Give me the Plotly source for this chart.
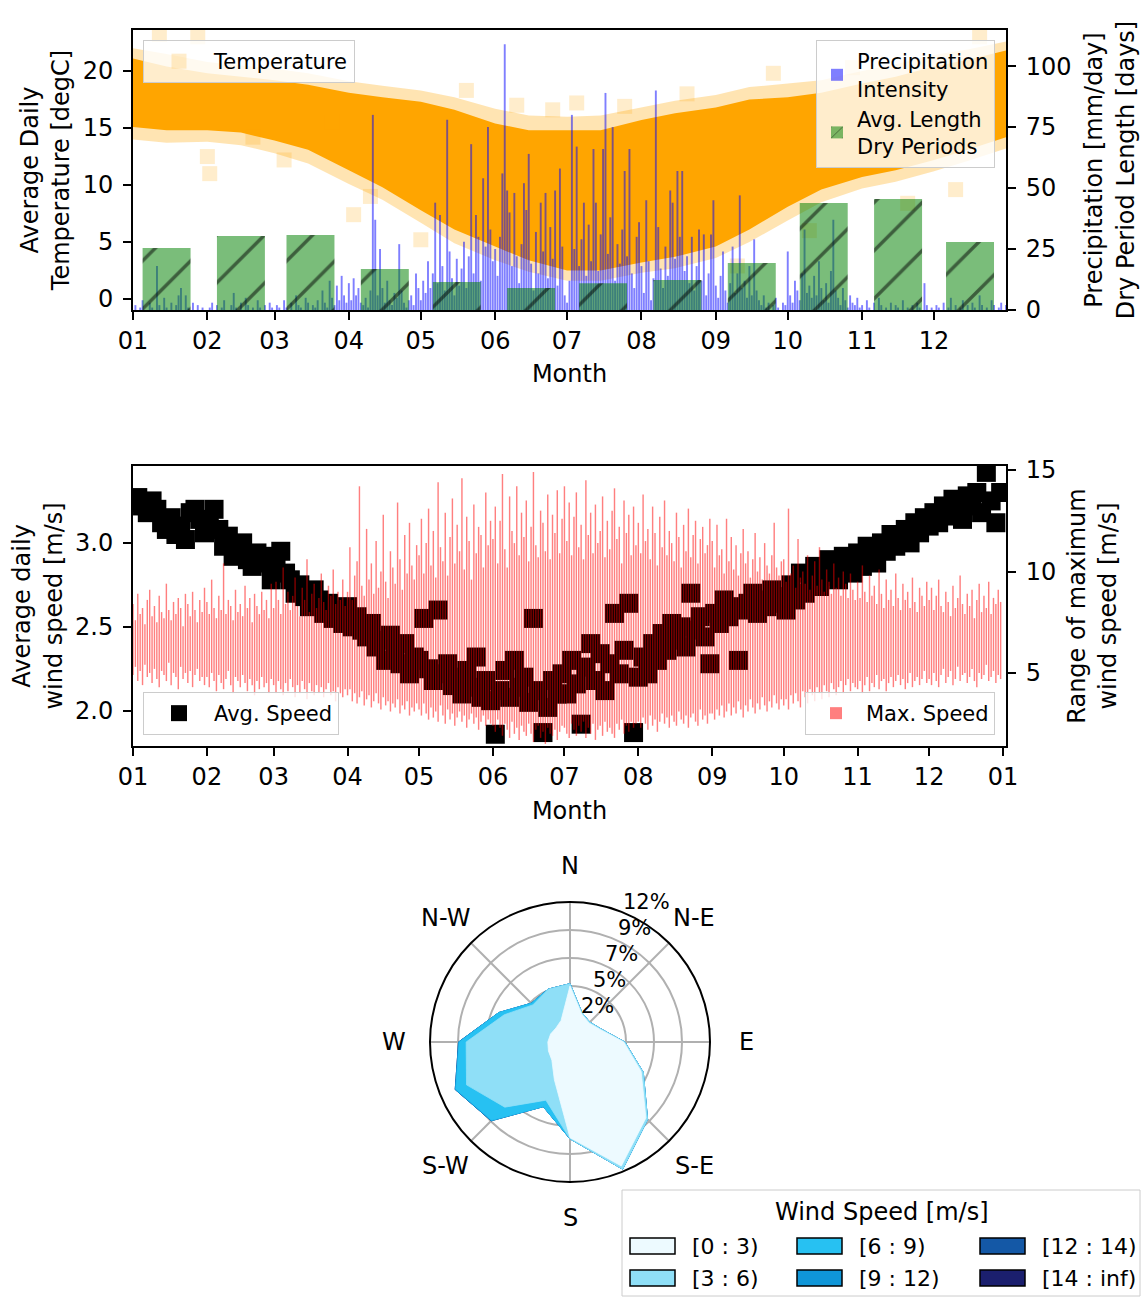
import numpy as np
import pandas as pd
import plotly.graph_objects as go

W, H = 1142, 1297
FONT = "DejaVu Sans"

# ---------------- DATA ----------------
# Temperature envelope (semi-monthly) [degC]
temp_dates = ["2001-01-01", "2001-01-15", "2001-02-01", "2001-02-15", "2001-03-01", "2001-03-15",
              "2001-04-01", "2001-04-15", "2001-05-01", "2001-05-15", "2001-06-01", "2001-06-15",
              "2001-07-01", "2001-07-15", "2001-08-01", "2001-08-15", "2001-09-01", "2001-09-15",
              "2001-10-01", "2001-10-15", "2001-11-01", "2001-11-15", "2001-12-01", "2001-12-15",
              "2001-12-31"]
temp_core_upper = [21.1, 20.4, 19.8, 19.5, 19.2, 18.8, 18.1, 17.7, 17.3, 16.6, 15.4, 14.8, 14.8,
                   14.8, 15.7, 16.3, 16.8, 17.5, 17.7, 18.1, 18.9, 19.5, 20.4, 21.0, 21.8]
temp_core_lower = [15.1, 14.8, 14.8, 14.6, 13.9, 13.1, 11.3, 9.8, 7.8, 6.1, 4.6, 3.4, 2.5,
                   2.5, 3.2, 3.7, 4.6, 6.1, 8.1, 9.6, 10.7, 11.3, 12.2, 13.1, 14.2]
temp_outer_upper = [22.0, 21.5, 20.8, 20.5, 20.2, 19.8, 19.1, 18.7, 18.3, 17.7, 16.7, 16.1, 16.0,
                    16.1, 16.8, 17.4, 17.9, 18.6, 18.9, 19.2, 20.0, 20.6, 21.4, 21.9, 22.6]
temp_outer_lower = [14.0, 13.7, 13.8, 13.5, 12.8, 11.9, 10.1, 8.7, 6.7, 4.9, 3.4, 2.4, 1.6,
                    1.6, 2.3, 2.7, 3.6, 5.0, 6.9, 8.5, 9.7, 10.3, 11.2, 12.1, 13.2]
temp_scatter_dates = ["2001-01-12", "2001-01-28", "2001-02-01", "2001-02-02", "2001-02-20",
                      "2001-03-05", "2001-03-25", "2001-04-03", "2001-04-10", "2001-05-01",
                      "2001-05-20", "2001-06-10", "2001-06-25", "2001-07-05", "2001-07-25",
                      "2001-08-20", "2001-09-10", "2001-09-25", "2001-10-10", "2001-10-28",
                      "2001-11-20", "2001-12-10", "2001-12-20"]
temp_scatter_vals = [23.2, 23.0, 12.5, 11.0, 14.2, 12.2, 15.5, 7.4, 9.0, 5.2, 18.3, 17.0, 16.6,
                     17.2, 16.9, 18.0, 2.9, 19.8, 6.0, 20.3, 8.4, 9.6, 23.0]

# Daily precipitation intensity [mm/day], Jan..Dec
precip_mm = (
    [0, 2, 0, 1, 4, 0, 0, 3, 1, 0, 18, 2, 0, 5, 1, 0, 3, 0, 2, 6, 9, 0, 6, 1, 0, 3, 0, 2, 0, 1, 0]
    + [0, 1, 3, 0, 2, 0, 1, 4, 0, 0, 2, 7, 1, 0, 3, 0, 5, 2, 0, 1, 0, 4, 1, 0, 2, 0, 3, 1]
    + [0, 2, 1, 0, 4, 1, 0, 3, 0, 6, 2, 1, 0, 5, 3, 0, 2, 1, 4, 0, 8, 3, 1, 12, 5, 2, 10, 4, 14, 6, 3]
    + [11, 4, 13, 6, 9, 3, 2, 5, 1, 8, 80, 37, 6, 25, 9, 3, 12, 4, 2, 7, 5, 27, 8, 3, 1, 4, 6, 2, 15, 9]
    + [4, 12, 7, 20, 9, 15, 44, 11, 39, 18, 8, 78, 24, 13, 6, 21, 10, 17, 28, 9, 22, 68, 15, 39, 30,
       12, 54, 26, 75, 33, 20]
    + [25, 14, 30, 56, 109, 49, 40, 18, 48, 22, 11, 27, 52, 41, 64, 19, 8, 32, 15, 44, 24, 48, 13,
       34, 21, 49, 10, 58, 26, 6]
    + [3, 12, 80, 25, 67, 18, 29, 44, 14, 35, 20, 66, 44, 16, 31, 66, 89, 23, 38, 75, 12, 27, 19,
       33, 57, 22, 66, 15, 9, 30, 36]
    + [18, 7, 45, 20, 4, 13, 90, 34, 17, 9, 26, 14, 49, 44, 21, 57, 30, 57, 16, 22, 11, 30, 8, 18,
       33, 12, 31, 6, 15, 31, 45]
    + [10, 5, 14, 24, 8, 3, 11, 26, 7, 15, 47, 9, 12, 5, 18, 6, 29, 8, 4, 2, 6, 1, 3, 0, 2, 5, 1, 0, 3, 2]
    + [24, 6, 3, 12, 8, 4, 15, 33, 7, 10, 5, 14, 6, 20, 9, 4, 11, 3, 16, 37, 8, 5, 2, 9, 4, 1, 6, 3,
       2, 5, 1]
    + [2, 0, 4, 1, 0, 3, 0, 5, 2, 0, 1, 0, 3, 0, 2, 1, 0, 4, 0, 1, 0, 2, 0, 3, 1, 0, 11, 2, 0, 1]
    + [0, 2, 1, 0, 3, 0, 1, 5, 0, 2, 0, 1, 4, 0, 2, 0, 3, 1, 0, 6, 2, 0, 1, 0, 4, 2, 0, 1, 3, 0, 2]
)

# Average length of dry periods per month [days]
dry_dates = ["2001-01-15", "2001-02-15", "2001-03-16", "2001-04-16", "2001-05-16", "2001-06-16",
             "2001-07-16", "2001-08-16", "2001-09-16", "2001-10-16", "2001-11-16", "2001-12-16"]
dry_days = [25.4, 30.3, 30.7, 16.8, 11.5, 9.0, 11.0, 12.3, 19.3, 43.9, 45.5, 27.9]

# Average daily wind speed [m/s] (every second day)
avg_speed = (
    [3.24, 3.27, 3.22, 3.18, 3.25, 3.20, 3.12, 3.08, 3.15, 3.05, 3.10, 3.02, 3.18, 3.20, 3.14, 3.06]
    + [3.12, 3.20, 3.08, 2.98, 3.04, 2.92, 2.97, 3.00, 2.90, 2.86, 2.94, 2.88, 2.92, 2.78]
    + [2.85, 2.95, 2.82, 2.78, 2.70, 2.75, 2.68, 2.62, 2.72, 2.66, 2.58, 2.64, 2.55, 2.60, 2.52]
    + [2.62, 2.50, 2.56, 2.48, 2.44, 2.52, 2.38, 2.42, 2.30, 2.45, 2.35, 2.28, 2.40, 2.22, 2.32]
    + [2.30, 2.55, 2.25, 2.18, 2.60, 2.22, 2.28, 2.15, 2.20, 2.10, 2.24, 2.14, 2.32, 2.08, 2.18, 2.06]
    + [1.86, 2.12, 2.24, 2.08, 2.30, 2.14, 2.20, 2.05, 2.55, 2.12, 1.87, 2.02, 2.18, 2.10, 2.22]
    + [2.10, 2.30, 2.16, 1.92, 2.26, 2.40, 2.18, 2.34, 2.12, 2.28, 2.58, 2.22, 2.36, 2.64, 1.87]
    + [2.20, 2.32, 2.22, 2.40, 2.30, 2.46, 2.36, 2.52, 2.42, 2.50, 2.38, 2.70, 2.48, 2.56, 2.44, 2.28]
    + [2.58, 2.52, 2.66, 2.56, 2.62, 2.30, 2.60, 2.64, 2.70, 2.58, 2.66, 2.62, 2.72, 2.64, 2.68]
    + [2.60, 2.75, 2.66, 2.82, 2.70, 2.78, 2.86, 2.74, 2.80, 2.90, 2.84, 2.78, 2.92, 2.88, 2.82]
    + [2.94, 2.86, 2.98, 2.92, 2.88, 3.00, 2.95, 3.05, 2.98, 3.02, 3.08, 3.00, 3.12, 3.06, 3.15]
    + [3.10, 3.18, 3.12, 3.22, 3.16, 3.26, 3.20, 3.14, 3.28, 3.22, 3.30, 3.18, 3.42, 3.25, 3.12, 3.30]
)

# Daily range of maximum wind speed [m/s]
max_high = (
    [8.4, 7.6, 8.9, 7.9, 8.2, 7.4, 8.6, 9.1, 7.8, 8.3, 7.5, 8.8, 8.0, 7.7, 9.4, 8.1, 7.6, 8.5, 7.9, 8.7,
     8.2, 7.3, 8.9, 8.4, 7.8, 9.0, 8.1, 7.5, 8.6, 8.0, 9.2]
    + [8.5, 7.9, 9.6, 8.2, 7.7, 8.8, 8.1, 10.4, 7.9, 8.6, 8.3, 7.6, 9.1, 8.0, 8.4, 7.8, 9.3, 8.2, 8.7,
       7.5, 8.9, 8.3, 7.9, 9.0, 8.1, 8.6, 7.7, 9.4]
    + [8.2, 9.5, 8.6, 7.9, 10.2, 8.4, 9.0, 8.1, 8.8, 9.7, 8.3, 7.8, 9.2, 8.6, 10.6, 8.0, 8.9, 9.4, 8.2,
       8.7, 9.9, 8.5, 8.1, 9.3, 8.8, 10.1, 8.4, 9.0, 8.6, 9.6, 8.3]
    + [9.0, 11.2, 8.6, 9.8, 10.5, 14.2, 9.3, 8.8, 12.1, 9.6, 10.4, 8.9, 11.5, 9.2, 10.0, 12.8, 9.5, 8.7,
       11.0, 10.2, 9.4, 13.4, 10.6, 9.1, 11.8, 9.9, 12.4, 10.3, 9.6, 11.3]
    + [10.8, 12.6, 9.9, 11.4, 13.1, 10.3, 12.0, 9.7, 14.4, 11.2, 10.5, 12.9, 9.8, 11.7, 13.6, 10.4, 12.3,
       11.0, 14.6, 10.1, 12.7, 11.5, 9.6, 13.3, 10.9, 12.2, 11.8, 10.2, 13.9, 11.3, 12.5]
    + [11.6, 13.2, 10.4, 12.5, 14.8, 11.1, 10.2, 13.7, 12.0, 11.4, 14.2, 10.8, 12.9, 11.7, 13.5, 10.5,
       12.2, 14.9, 11.3, 10.7, 13.0, 12.4, 11.0, 13.8, 10.6, 12.8, 11.9, 14.0, 10.9, 12.6]
    + [14.2, 11.5, 13.4, 10.8, 12.7, 13.9, 11.2, 12.3, 10.6, 14.5, 11.8, 12.9, 10.9, 13.3, 11.4, 12.0,
       13.7, 10.7, 12.5, 11.1, 13.0, 14.1, 11.6, 12.2, 10.4, 13.5, 11.9, 12.8, 10.8, 13.2, 11.3]
    + [12.4, 10.9, 13.8, 11.5, 12.1, 10.6, 13.2, 11.9, 10.3, 12.7, 11.2, 13.5, 10.8, 12.0, 11.4, 10.5,
       12.9, 11.7, 10.2, 12.3, 11.0, 13.1, 10.7, 11.8, 12.5, 10.4, 11.6, 12.2, 10.9, 11.3, 12.6]
    + [11.5, 10.2, 12.3, 10.8, 11.1, 9.9, 12.6, 10.5, 11.7, 10.1, 11.3, 9.8, 10.9, 12.1, 10.4, 11.0, 9.7,
       10.6, 11.9, 10.0, 10.7, 9.6, 11.4, 10.3, 9.9, 10.8, 12.4, 10.2, 9.8, 10.5]
    + [10.6, 9.5, 13.1, 9.9, 10.3, 9.2, 11.6, 9.7, 10.0, 9.4, 10.8, 9.1, 9.8, 10.5, 9.3, 11.2, 9.6, 9.0,
       10.1, 9.5, 8.9, 10.4, 9.2, 9.7, 8.8, 10.0, 9.4, 8.7, 9.9, 9.1, 8.6]
    + [9.5, 8.7, 10.3, 9.0, 8.5, 9.8, 8.8, 9.3, 8.4, 10.1, 8.9, 8.2, 9.6, 8.6, 9.1, 8.3, 9.9, 8.7, 8.1,
       9.4, 8.6, 9.0, 8.2, 9.7, 8.5, 8.0, 9.2, 8.8, 8.3, 9.5]
    + [8.6, 9.2, 8.1, 8.8, 9.6, 8.3, 8.0, 9.0, 8.5, 7.8, 9.3, 8.2, 8.7, 9.8, 8.4, 7.9, 8.9, 8.3, 9.1,
       7.7, 8.6, 9.4, 8.0, 8.8, 8.2, 9.5, 7.9, 8.7, 8.4, 9.1, 8.5]
)
max_low = (
    [4.9, 5.3, 4.6, 5.1, 4.4, 5.4, 4.8, 5.0, 4.5, 5.2, 4.7, 4.3, 5.1, 4.9, 4.6, 5.5, 4.4, 5.0, 4.8, 4.2,
     5.3, 4.7, 5.0, 4.5, 5.1, 4.3, 4.9, 5.2, 4.6, 4.8, 4.4]
    + [4.8, 4.3, 5.0, 4.6, 4.1, 4.9, 4.5, 4.2, 4.7, 5.1, 4.4, 4.0, 4.8, 4.6, 4.3, 4.9, 4.5, 4.1, 4.7,
       4.4, 3.9, 4.6, 4.2, 4.8, 4.3, 4.5, 4.0, 4.7]
    + [4.4, 4.0, 4.6, 4.2, 3.9, 4.5, 4.1, 4.7, 4.3, 3.8, 4.4, 4.0, 4.6, 4.2, 3.7, 4.5, 4.1, 3.9, 4.4,
       4.0, 4.3, 3.8, 4.2, 4.5, 3.9, 4.1, 3.6, 4.3, 4.0, 3.8, 4.2]
    + [3.9, 4.2, 3.6, 4.0, 3.5, 3.8, 4.1, 3.4, 3.7, 3.9, 3.3, 3.6, 4.0, 3.5, 3.2, 3.8, 3.4, 3.6, 3.1,
       3.5, 3.3, 3.7, 3.0, 3.4, 3.2, 3.6, 2.9, 3.3, 3.1, 3.5]
    + [3.2, 2.9, 3.5, 3.0, 2.7, 3.3, 2.8, 3.1, 2.6, 3.4, 2.9, 2.5, 3.2, 2.7, 3.0, 2.4, 2.8, 3.1, 2.6,
       2.9, 2.3, 2.7, 3.0, 2.5, 2.8, 2.2, 2.6, 2.9, 2.4, 2.7, 2.5]
    + [2.4, 2.1, 2.7, 2.3, 1.9, 2.5, 2.2, 1.8, 2.6, 2.0, 2.3, 1.7, 2.4, 2.1, 1.9, 2.5, 2.0, 1.6, 2.2,
       2.4, 1.8, 2.1, 1.5, 2.3, 2.0, 1.9, 2.2, 1.7, 2.1, 2.4]
    + [2.3, 2.0, 1.8, 2.5, 2.2, 1.9, 2.4, 2.1, 2.6, 1.8, 2.3, 2.0, 2.5, 1.7, 2.2, 2.4, 1.9, 2.6, 2.1,
       2.3, 2.0, 1.8, 2.5, 2.2, 2.7, 2.0, 2.4, 2.1, 2.6, 2.3, 2.5]
    + [2.6, 2.3, 2.8, 2.5, 2.2, 2.9, 2.4, 2.7, 2.1, 2.6, 3.0, 2.5, 2.8, 2.3, 2.9, 2.6, 2.4, 3.1, 2.7,
       2.5, 2.9, 2.3, 2.8, 3.0, 2.6, 2.4, 3.2, 2.7, 2.9, 2.5, 3.0]
    + [3.0, 2.7, 3.2, 2.9, 3.4, 2.8, 3.1, 3.5, 2.9, 3.3, 3.0, 3.6, 3.2, 2.8, 3.4, 3.1, 3.7, 3.3, 3.0,
       3.5, 3.2, 3.8, 3.4, 3.1, 3.6, 3.3, 3.9, 3.5, 3.2, 3.7]
    + [3.4, 3.7, 3.2, 3.9, 3.5, 4.0, 3.6, 3.3, 4.1, 3.8, 3.5, 4.2, 3.9, 3.6, 4.3, 4.0, 3.7, 4.4, 4.1,
       3.8, 4.5, 4.2, 3.9, 4.3, 4.6, 4.0, 4.4, 4.7, 4.1, 4.5, 4.3]
    + [4.2, 4.6, 4.0, 4.4, 4.8, 4.1, 4.5, 4.3, 4.9, 4.2, 4.6, 4.7, 4.1, 4.5, 4.8, 4.3, 4.6, 4.9, 4.4,
       4.7, 4.2, 4.5, 5.0, 4.3, 4.6, 4.8, 4.4, 4.7, 5.1, 4.5]
    + [4.7, 4.4, 5.0, 4.6, 4.3, 4.9, 5.2, 4.5, 4.8, 5.1, 4.4, 4.7, 5.3, 4.6, 4.9, 5.0, 4.5, 4.8, 5.2,
       4.6, 4.3, 5.0, 4.7, 4.9, 5.4, 4.6, 4.8, 5.1, 4.5, 4.9, 4.7]
)

# Wind rose: frequency [%] per direction and speed bin
rose_dirs = ["N", "NNE", "NE", "ENE", "E", "ESE", "SE", "SSE",
             "S", "SSW", "SW", "WSW", "W", "WNW", "NW", "NNW"]
rose_bins = ["[0 : 3)", "[3 : 6)", "[6 : 9)", "[9 : 12)", "[12 : 14)", "[14 : inf)"]
rose_freq = [
    [4.8, 2.6, 2.3, 2.8, 4.6, 6.6, 9.2, 11.5, 8.2, 3.5, 2.2, 2.0, 1.9, 1.8, 1.7, 2.0],
    [0.2, 0.1, 0.1, 0.1, 0.1, 0.2, 0.2, 0.3, 0.1, 1.9, 5.7, 7.6, 7.0, 4.3, 2.8, 2.9],
    [0.0, 0.0, 0.0, 0.0, 0.0, 0.0, 0.0, 0.0, 0.0, 0.6, 1.6, 1.0, 0.6, 0.5, 0.2, 0.0],
    [0.0, 0.0, 0.0, 0.0, 0.0, 0.0, 0.0, 0.0, 0.0, 0.0, 0.05, 0.05, 0.05, 0.0, 0.0, 0.0],
    [0.0] * 16,
    [0.0] * 16,
]
rose_colors = ["#edfaff", "#8fdff7", "#27c1f2", "#0f96d8", "#1458a6", "#1b1f6e"]
rose_ring_vals = [2.4, 4.8, 7.2, 9.6, 12.0]
rose_ring_labels = ["2%", "5%", "7%", "9%", "12%"]
compass_angles = [0, 45, 90, 135, 180, 225, 270, 315]
compass_labels = ["N", "N-E", "E", "S-E", "S", "S-W", "W", "N-W"]

month_ticks_fmt = "%m"

# ---------------- HELPERS (layout only) ----------------
def px(x):
    return x / W


def py(y):
    return 1 - y / H


DAY_MS = 86400000
days = pd.date_range("2001-01-01", periods=365, freq="D")
days2 = pd.date_range("2001-01-01", periods=len(avg_speed), freq="2D")

fig = go.Figure()

# ---------------- TOP PANEL ----------------
fig.add_trace(go.Scatter(x=temp_dates, y=temp_outer_lower, mode="lines", line=dict(width=0),
                         showlegend=False, hoverinfo="skip", xaxis="x", yaxis="y"))
fig.add_trace(go.Scatter(x=temp_dates, y=temp_outer_upper, mode="lines", line=dict(width=0),
                         fill="tonexty", fillcolor="rgba(255,165,0,0.3)", showlegend=False,
                         hoverinfo="skip", xaxis="x", yaxis="y"))
fig.add_trace(go.Scatter(x=temp_dates, y=temp_core_lower, mode="lines", line=dict(width=0),
                         showlegend=False, hoverinfo="skip", xaxis="x", yaxis="y"))
fig.add_trace(go.Scatter(x=temp_dates, y=temp_core_upper, mode="lines", line=dict(width=0),
                         fill="tonexty", fillcolor="#ffa500", showlegend=False,
                         hoverinfo="skip", xaxis="x", yaxis="y"))
fig.add_trace(go.Scatter(x=temp_scatter_dates, y=temp_scatter_vals, mode="markers",
                         marker=dict(symbol="square", size=15, color="rgba(255,165,0,0.2)"),
                         name="Temperature", legend="legend", xaxis="x", yaxis="y"))

fig.add_trace(go.Bar(x=days, y=precip_mm, width=0.8 * DAY_MS,
                     marker=dict(color="rgba(0,0,255,0.5)", line=dict(width=0)),
                     name="Precipitation<br>Intensity", legend="legend2", xaxis="x", yaxis="y2"))
fig.add_trace(go.Bar(x=dry_dates, y=dry_days, width=20 * DAY_MS,
                     marker=dict(color="rgba(0,128,0,0.52)", line=dict(width=0),
                                 pattern=dict(shape="/", fgcolor="black", size=34, solidity=0.1)),
                     name="Avg. Length<br>Dry Periods", legend="legend2", xaxis="x", yaxis="y2"))

# ---------------- MIDDLE PANEL ----------------
fig.add_trace(go.Scatter(x=days2, y=avg_speed, mode="markers",
                         marker=dict(symbol="square", size=19, color="black", line=dict(width=0)),
                         name="Avg. Speed", legend="legend3", xaxis="x2", yaxis="y3"))
fig.add_trace(go.Bar(x=days, y=np.array(max_high) - np.array(max_low), base=max_low,
                     width=0.6 * DAY_MS,
                     marker=dict(color="rgba(255,0,0,0.5)", line=dict(width=0)),
                     name="Max. Speed", legend="legend4", xaxis="x2", yaxis="y4"))

# ---------------- WIND ROSE ----------------
theta = [i * 22.5 for i in range(16)] + [0]
cum = np.cumsum(np.array(rose_freq), axis=0)
for k in range(len(rose_bins) - 1, -1, -1):
    r = list(cum[k]) + [cum[k][0]]
    fig.add_trace(go.Scatterpolar(r=r, theta=theta, mode="lines", fill="toself",
                                  fillcolor=rose_colors[k],
                                  line=dict(color=rose_colors[k], width=0.8),
                                  showlegend=False, hoverinfo="skip", subplot="polar"))

# ---------------- LAYOUT ----------------
tickfont = dict(family=FONT, size=24, color="black")
axis_common = dict(showline=True, linecolor="black", linewidth=2, ticks="outside", ticklen=8,
                   tickwidth=2, tickcolor="black", showgrid=False, zeroline=False,
                   tickfont=tickfont, automargin=False)
xdom = [px(133), px(1006)]

fig.update_layout(
    width=W, height=H, margin=dict(l=0, r=0, t=0, b=0, autoexpand=False),
    paper_bgcolor="white", plot_bgcolor="white",
    font=dict(family=FONT, size=21, color="black"),
    barmode="overlay",
    xaxis=dict(domain=xdom, anchor="y", type="date", range=["2001-01-01", "2001-12-31"],
               tick0="2001-01-01", dtick="M1", tickformat=month_ticks_fmt, mirror=True,
               ticklabelstandoff=0,
               title=dict(text="Month", font=tickfont, standoff=11), **axis_common),
    yaxis=dict(domain=[py(310), py(30)], anchor="x", range=[-0.96, 23.6],
               tickvals=[0, 5, 10, 15, 20], ticklabelstandoff=5,
               title=dict(text="Average Daily<br>Temperature [degC]", font=tickfont, standoff=6),
               **axis_common),
    yaxis2=dict(overlaying="y", side="right", anchor="x", range=[0, 114.8],
                tickvals=[0, 25, 50, 75, 100], ticklabelstandoff=5,
                title=dict(text="Precipitation [mm/day]<br>Dry Period Length [days]", font=tickfont,
                           standoff=15),
                **axis_common),
    xaxis2=dict(domain=xdom, anchor="y3", type="date", range=["2001-01-01", "2002-01-02 06:00"],
                tick0="2001-01-01", dtick="M1", tickformat=month_ticks_fmt, mirror=True,
                ticklabelstandoff=0,
                title=dict(text="Month", font=tickfont, standoff=12), **axis_common),
    yaxis3=dict(domain=[py(746), py(466)], anchor="x2", range=[1.79, 3.458],
                tickvals=[2.0, 2.5, 3.0], tickformat=".1f", ticklabelstandoff=5,
                title=dict(text="Average daily<br>wind speed [m/s]", font=tickfont, standoff=6),
                **axis_common),
    yaxis4=dict(overlaying="y3", side="right", anchor="x2", range=[1.4, 15.2],
                tickvals=[5, 10, 15], ticklabelstandoff=5,
                title=dict(text="Range of maximum<br>wind speed [m/s]", font=tickfont, standoff=13),
                **axis_common),
    polar=dict(
        domain=dict(x=[px(430), px(710)], y=[py(1182), py(902)]),
        bgcolor="white",
        angularaxis=dict(direction="clockwise", rotation=90, tickmode="array",
                         tickvals=compass_angles, showticklabels=False, ticks="",
                         showline=True, linecolor="black", linewidth=2,
                         showgrid=True, gridcolor="#b0b0b0", gridwidth=1.5, layer="above traces"),
        radialaxis=dict(range=[0, 12], tickmode="array", tickvals=rose_ring_vals,
                        showticklabels=False, angle=67.5, showline=False, showgrid=True,
                        gridcolor="#b0b0b0", gridwidth=1.5, ticks="", layer="above traces"),
    ),
)

legend_style = dict(bgcolor="rgba(255,255,255,0.8)", bordercolor="#cccccc", borderwidth=1,
                    font=dict(family=FONT, size=21, color="black"))
fig.update_layout(
    legend=dict(x=px(143), y=py(40), xanchor="left", yanchor="top", itemwidth=60, **legend_style),
    legend2=dict(x=px(995), y=py(40), xanchor="right", yanchor="top", **legend_style),
    legend3=dict(x=px(143), y=py(735), xanchor="left", yanchor="bottom", itemwidth=60,
                 **legend_style),
    legend4=dict(x=px(995), y=py(735), xanchor="right", yanchor="bottom", itemwidth=50,
                 **legend_style),
)

annotations = []
CX, CY, RPX = 570, 1042, 140
# Compass labels of the wind rose
for ang, lab in zip(compass_angles, compass_labels):
    a = np.deg2rad(ang)
    annotations.append(dict(text=lab, x=px(CX + 176 * np.sin(a)), y=py(CY - 176 * np.cos(a)),
                            xref="paper", yref="paper", xanchor="center", yanchor="middle",
                            showarrow=False, font=dict(family=FONT, size=24, color="black")))
# Radial (percentage) labels of the wind rose, placed like matplotlib's rlabels
for val, lab in zip(rose_ring_vals, rose_ring_labels):
    rp = val / 12.0 * RPX
    ax_ = CX + 27 + 0.446 * (rp - 28)
    ay_ = CY - 36 - 0.929 * (rp - 28)
    annotations.append(dict(text=lab, x=px(ax_), y=py(ay_), xref="paper", yref="paper",
                            xanchor="center", yanchor="middle", showarrow=False,
                            font=dict(family=FONT, size=21, color="black")))

# Manual legend for the wind rose bins
shapes = [dict(type="rect", xref="paper", yref="paper", x0=px(622), x1=px(1140), y0=py(1296),
               y1=py(1190), line=dict(color="#cccccc", width=1), fillcolor="rgba(255,255,255,0.8)")]
annotations.append(dict(text="Wind Speed [m/s]", x=px(882), y=py(1212), xref="paper", yref="paper",
                        xanchor="center", yanchor="middle", showarrow=False,
                        font=dict(family=FONT, size=24, color="black")))
col_x = [630, 797, 980]
row_y = [1246, 1278]
for i, (lab, col) in enumerate(zip(rose_bins, rose_colors)):
    cx = col_x[i // 2]
    ry = row_y[i % 2]
    shapes.append(dict(type="rect", xref="paper", yref="paper", x0=px(cx), x1=px(cx + 45),
                       y0=py(ry + 8), y1=py(ry - 8), line=dict(color="black", width=1.5),
                       fillcolor=col))
    annotations.append(dict(text=lab, x=px(cx + 60), y=py(ry), xref="paper", yref="paper",
                            xanchor="left", yanchor="middle", showarrow=False,
                            font=dict(family=FONT, size=22, color="black")))
fig.update_layout(shapes=shapes, annotations=annotations)

fig.write_html("out.html", config={"displayModeBar": False},
               post_script="document.body.style.margin='0px';")
